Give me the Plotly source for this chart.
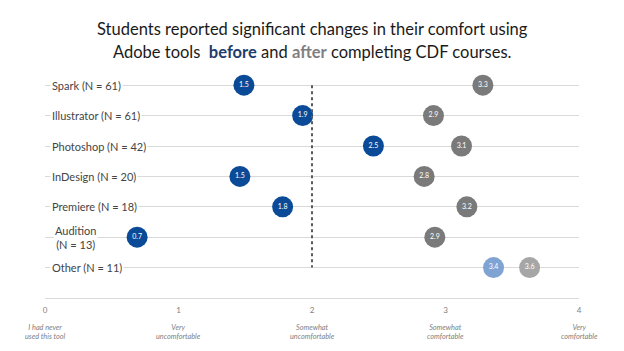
import plotly.graph_objects as go

tools = ["Spark (N = 61)", "Illustrator (N = 61)", "Photoshop (N = 42)", "InDesign (N = 20)",
         "Premiere (N = 18)", "Audition<br>(N = 13)", "Other (N = 11)"]
before = [1.49, 1.93, 2.46, 1.46, 1.78, 0.69, 3.36]
after = [3.28, 2.91, 3.12, 2.84, 3.16, 2.92, 3.63]
before_colors = ["#0B4A96"] * 6 + ["#7FA3D3"]
after_colors = ["#7A7A7A"] * 6 + ["#A6A6A6"]
scale_ticks = [0, 1, 2, 3, 4]
scale_labels = ["I had never<br>used this tool", "Very<br>uncomfortable", "Somewhat<br>uncomfortable",
                "Somewhat<br>comfortable", "Very<br>comfortable"]
title_lines = [
    "Students reported significant changes in their comfort using",
    "Adobe tools  <span style='color:#1F3C6E'><b>before</b></span> and "
    "<span style='color:#7F7F7F'><b>after</b></span> completing CDF courses.",
]

FONT = "Lato"
rows = list(range(len(tools)))

fig = go.Figure()
fig.add_trace(go.Scatter(
    x=after, y=rows, mode="markers+text",
    marker=dict(size=21, color=after_colors, line=dict(width=0)),
    texttemplate="%{x:.1f}", textposition="middle center",
    textfont=dict(family=FONT, size=7, color="white"),
    hoverinfo="skip", cliponaxis=False))
fig.add_trace(go.Scatter(
    x=before, y=rows, mode="markers+text",
    marker=dict(size=21, color=before_colors, line=dict(width=0)),
    texttemplate="%{x:.1f}", textposition="middle center",
    textfont=dict(family=FONT, size=7, color="white"),
    hoverinfo="skip", cliponaxis=False))

fig.add_shape(type="line", x0=2, x1=2, y0=0, y1=6, xref="x", yref="y",
              line=dict(color="#5A5A5A", width=2, dash="dot"), layer="above")

for i, t in enumerate(tools):
    two = "<br>" in t
    fig.add_annotation(x=0, y=i, xref="x", yref="y", text=t, showarrow=False,
                       xanchor="left", yanchor="middle", xshift=5 if not two else 8,
                       align="center", bgcolor="white", borderpad=1,
                       font=dict(family=FONT, size=11, color="#444444"))

for v, lab in zip(scale_ticks, scale_labels):
    fig.add_annotation(x=v, y=-0.10, xref="x", yref="paper", text="<i>" + lab + "</i>",
                       showarrow=False, xanchor="center", yanchor="top", align="center",
                       font=dict(family=FONT, size=7.3, color="#808080"))

for ty, line in zip([1.178, 1.081], title_lines):
    fig.add_annotation(x=0.5, y=ty, xref="paper", yref="paper", text=line, showarrow=False,
                       xanchor="center", yanchor="middle",
                       font=dict(family=FONT, size=16.5, color="#1A1A1A"))

fig.update_layout(
    width=624, height=351,
    margin=dict(l=45, r=45, t=70, b=53),
    paper_bgcolor="white", plot_bgcolor="white",
    showlegend=False,
    xaxis=dict(range=[0, 4], tickvals=scale_ticks, ticktext=[str(v) for v in scale_ticks],
               showgrid=False, zeroline=False, showline=True, linecolor="#D9D9D9", linewidth=1,
               ticks="", ticklabelstandoff=4,
               tickfont=dict(family=FONT, size=8, color="#7F7F7F")),
    yaxis=dict(range=[7, -0.5], tickvals=rows, showticklabels=False,
               showgrid=True, gridcolor="#D9D9D9", gridwidth=1, zeroline=False, showline=False),
)

fig.write_html("out.html")
